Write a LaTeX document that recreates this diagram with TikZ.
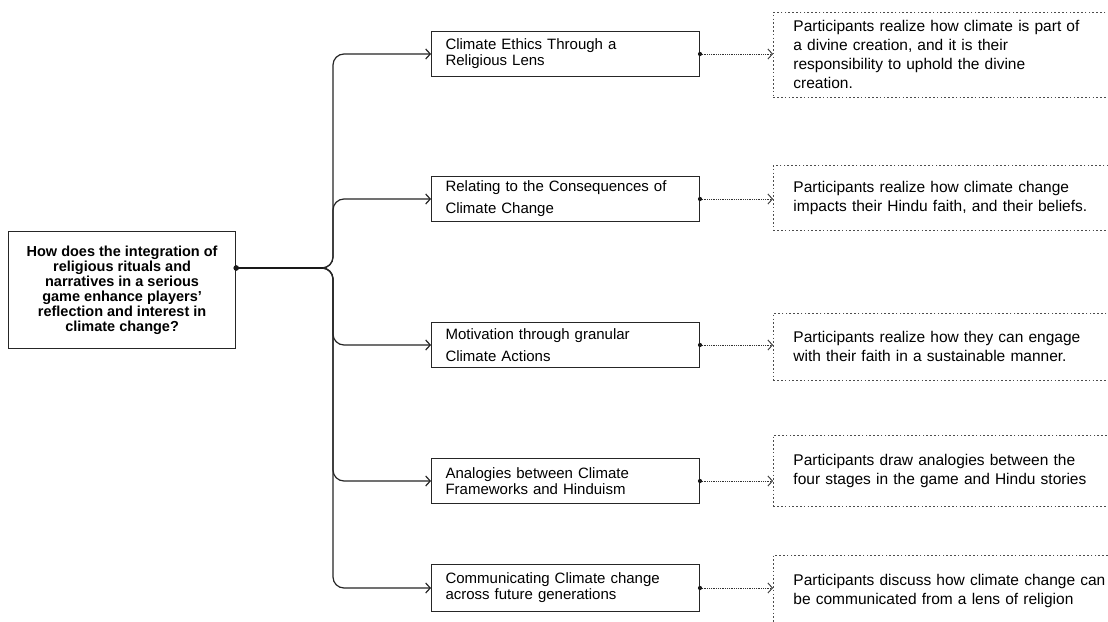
\documentclass[tikz,border=0pt]{standalone}
\usepackage{fontspec}
\setmainfont{Liberation Sans}
\usetikzlibrary{arrows.meta}

\tikzset{
  question/.style={draw=black!85, line width=1.2pt, minimum width=227pt, minimum height=117pt,
    inner sep=0pt, align=center, anchor=north west, text=black,
    font=\fontsize{14.5}{15}\bfseries\selectfont},
  theme/.style={draw=black!85, line width=1pt, minimum width=268pt, minimum height=45pt,
    text width=240pt, inner xsep=14pt, inner ysep=0pt, align=left, anchor=north west,
    text=black, font=\fontsize{15}{16}\selectfont},
  finding/.style={draw=black!70, line width=0.9pt, dash pattern=on 1.6pt off 2.2pt,
    minimum width=380pt, text width=340pt, inner xsep=20pt, inner ysep=0pt,
    align=left, anchor=north west, text=black, font=\fontsize{15.5}{19}\selectfont},
  tip/.style={-{Straight Barb[length=4.5pt,width=10pt]}},
  branch/.style={draw=black!85, line width=1.2pt, rounded corners=11pt, tip},
  trunk/.style={draw=black!90, line width=2pt},
  link/.style={draw=black!80, line width=0.9pt, dash pattern=on 0.9pt off 0.9pt, tip},
}

\begin{document}
\begin{tikzpicture}[x=1pt,y=-1pt]
  \fill[white] (0,0) rectangle (1108,621);
  \path[use as bounding box] (0,0) rectangle (1108,621);
  \clip (0,0) rectangle (1108,621);

  % research question
  \node[question] (root) at (8,231) {How does the integration of\\religious rituals and\\narratives in a serious\\game enhance players'\\reflection and interest in\\climate change?};
  \coordinate (hub) at (333,268);

  % themes
  \node[theme] (t1) at (431,31) {Climate Ethics Through a\\Religious Lens};
  \node[theme, font=\fontsize{15}{22}\selectfont] (t2) at (431,176) {Relating to the Consequences of\\Climate Change};
  \node[theme, font=\fontsize{15}{22}\selectfont] (t3) at (431,322) {Motivation through granular\\Climate Actions};
  \node[theme] (t4) at (431,458) {Analogies between Climate\\Frameworks and Hinduism};
  \node[theme, minimum height=47pt] (t5) at (431,564) {Communicating Climate change\\across future generations};

  % findings
  \node[finding, minimum height=85pt] (r1) at (773,12) {Participants realize how climate is part of\\a divine creation, and it is their\\responsibility to uphold the divine\\creation.};
  \node[finding, minimum height=65pt] (r2) at (773,165) {Participants realize how climate change\\impacts their Hindu faith, and their beliefs.};
  \node[finding, minimum height=67pt] (r3) at (773,313) {Participants realize how they can engage\\with their faith in a sustainable manner.};
  \node[finding, minimum height=71pt] (r4) at (773,435) {Participants draw analogies between the\\four stages in the game and Hindu stories};
  \node[finding, minimum height=72pt] (r5) at (773,555) {Participants discuss how climate change can\\be communicated from a lens of religion};

  % tree
  \foreach \t in {t1,t2,t3,t4,t5}
    \draw[branch] (root.east |- hub) -- (hub) -- (hub |- \t.west) -- (\t.west);
  \draw[trunk] (root.east |- hub) -- ([xshift=-10pt]hub);
  \fill[black!90] (root.east |- hub) circle (2.8pt);

  % theme -> finding
  \foreach \t/\r in {t1/r1,t2/r2,t3/r3,t4/r4,t5/r5} {
    \draw[link] (\t.east) -- (\r.west |- \t.east);
    \fill[black!90] (\t.east) circle (2.1pt);
  }
\end{tikzpicture}
\end{document}
